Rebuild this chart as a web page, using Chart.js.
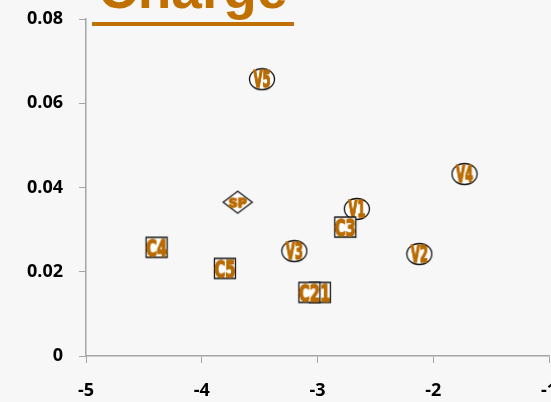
<!DOCTYPE html>
<html>
<head>
<meta charset="utf-8">
<script src="https://cdn.jsdelivr.net/npm/chart.js@4"></script>
<style>
    html, body {
        margin: 0;
        padding: 0;
        background: #F7F7F7;
        overflow: hidden;
        width: 551px;
        height: 402px;
    }
    #wrap {
        position: absolute;
        left: 0;
        top: 0;
        width: 600px;
        height: 402px;
    }
    #title {
        position: absolute;
        left: 92px;
        top: -38px;
        font: bold 55px 'Liberation Sans', Arial, sans-serif;
        line-height: 55px;
        color: #C07000;
        display: inline-block;
        padding: 0 6px 5px 6px;
        border-bottom: 4px solid #C07000;
        z-index: 2;
    }
</style>
</head>
<body>
<div id="wrap"><canvas id="myChart"></canvas></div>
<div id="title">Charge</div>
<script>
// V = ellipse markers, C = square markers, SP = diamond
const vLabels = ['V1', 'V2', 'V3', 'V4', 'V5'];
const vX = [-2.66, -2.12, -3.20, -1.73, -3.48];
const vY = [0.0349, 0.0242, 0.0249, 0.0432, 0.0657];

const cLabels = ['C1', 'C2', 'C3', 'C4', 'C5'];
const cX = [-2.98, -3.07, -2.76, -4.39, -3.80];
const cY = [0.0151, 0.0151, 0.0306, 0.0258, 0.0208];

const spLabels = ['SP'];
const spX = [-3.69];
const spY = [0.0365];

const xTicks = [-5, -4, -3, -2, -1];
const yTicks = [0, 0.02, 0.04, 0.06, 0.08];

const orange = '#B96A00';
const axisGrey = '#A6A6A6';

function makeMarker(shape, text) {
    const c = document.createElement('canvas');
    let w, h, capH, textW;
    if (shape === 'ellipse') { w = 28; h = 24; capH = 16; textW = 17; }
    else if (shape === 'square') { w = 26; h = 24; capH = 17; textW = 21; }
    else { w = 32; h = 26; capH = 9; textW = 18; }
    c.width = w;
    c.height = h;
    const g = c.getContext('2d');
    const cx = w / 2, cy = h / 2;
    g.lineWidth = 1.3;
    g.strokeStyle = '#141414';
    g.fillStyle = '#FFFFFF';
    g.beginPath();
    if (shape === 'ellipse') {
        g.ellipse(cx, cy, 12.5, 10.5, 0, 0, Math.PI * 2);
    } else if (shape === 'square') {
        g.rect(cx - 10.5, cy - 10, 21, 20);
    } else {
        g.moveTo(cx, cy - 11);
        g.lineTo(cx + 14.5, cy);
        g.lineTo(cx, cy + 11);
        g.lineTo(cx - 14.5, cy);
        g.closePath();
    }
    g.fill();
    g.stroke();
    const size = capH / 0.72;
    g.font = 'bold ' + size + "px 'Liberation Sans Narrow', 'DejaVu Sans Condensed', 'Liberation Sans', sans-serif";
    const mw = g.measureText(text).width;
    g.save();
    g.translate(cx, cy + capH / 2);
    g.scale(textW / mw, 1);
    g.fillStyle = orange;
    g.strokeStyle = orange;
    g.lineWidth = shape === 'diamond' ? 1.3 : 1.4;
    g.lineJoin = 'round';
    g.textAlign = 'center';
    g.textBaseline = 'alphabetic';
    g.strokeText(text, 0, 0);
    g.fillText(text, 0, 0);
    g.restore();
    return c;
}

function toPoints(xs, ys) {
    return xs.map((x, i) => ({ x: x, y: ys[i] }));
}

const tickFont = {
    family: "'Open Sans', sans-serif",
    size: 18,
    weight: 'bold'
};

const ctx = document.getElementById('myChart').getContext('2d');
const myChart = new Chart(ctx, {
    type: 'scatter',
    data: {
        datasets: [{
            label: 'C',
            data: toPoints(cX, cY),
            pointStyle: cLabels.map(t => makeMarker('square', t)),
            radius: 10,
            hoverRadius: 10
        }, {
            label: 'SP',
            data: toPoints(spX, spY),
            pointStyle: spLabels.map(t => makeMarker('diamond', t)),
            radius: 10,
            hoverRadius: 10
        }, {
            label: 'V',
            data: toPoints(vX, vY),
            pointStyle: vLabels.map(t => makeMarker('ellipse', t)),
            radius: 10,
            hoverRadius: 10
        }]
    },
    options: {
        responsive: true,
        maintainAspectRatio: false,
        animation: false,
        events: [],
        layout: {
            padding: { left: 0, top: 19, right: 51, bottom: 0 }
        },
        scales: {
            x: {
                type: 'linear',
                min: -5,
                max: -1,
                afterBuildTicks: function(axis) {
                    axis.ticks = xTicks.map(v => ({ value: v }));
                },
                afterFit: function(axis) {
                    axis.height = 46;
                    axis.paddingLeft = 0;
                    axis.paddingRight = 0;
                },
                ticks: {
                    color: '#000000',
                    font: tickFont,
                    padding: 17,
                    maxRotation: 0,
                    autoSkip: false
                },
                grid: {
                    display: true,
                    drawOnChartArea: false,
                    color: axisGrey,
                    tickLength: 7
                },
                border: {
                    color: axisGrey,
                    width: 1.5
                }
            },
            y: {
                type: 'linear',
                min: 0,
                max: 0.08,
                afterBuildTicks: function(axis) {
                    axis.ticks = yTicks.map(v => ({ value: v }));
                },
                afterFit: function(axis) {
                    axis.width = 86;
                    axis.paddingTop = 0;
                    axis.paddingBottom = 0;
                },
                ticks: {
                    color: '#000000',
                    font: tickFont,
                    padding: 16,
                    callback: function(value) {
                        return value === 0 ? '0' : value.toFixed(2);
                    }
                },
                grid: {
                    display: true,
                    drawOnChartArea: false,
                    color: axisGrey,
                    tickLength: 7
                },
                border: {
                    color: axisGrey,
                    width: 1.5
                }
            }
        },
        plugins: {
            legend: {
                display: false
            },
            title: {
                display: false
            },
            tooltip: {
                enabled: false
            }
        }
    }
});
</script>
</body>
</html>
